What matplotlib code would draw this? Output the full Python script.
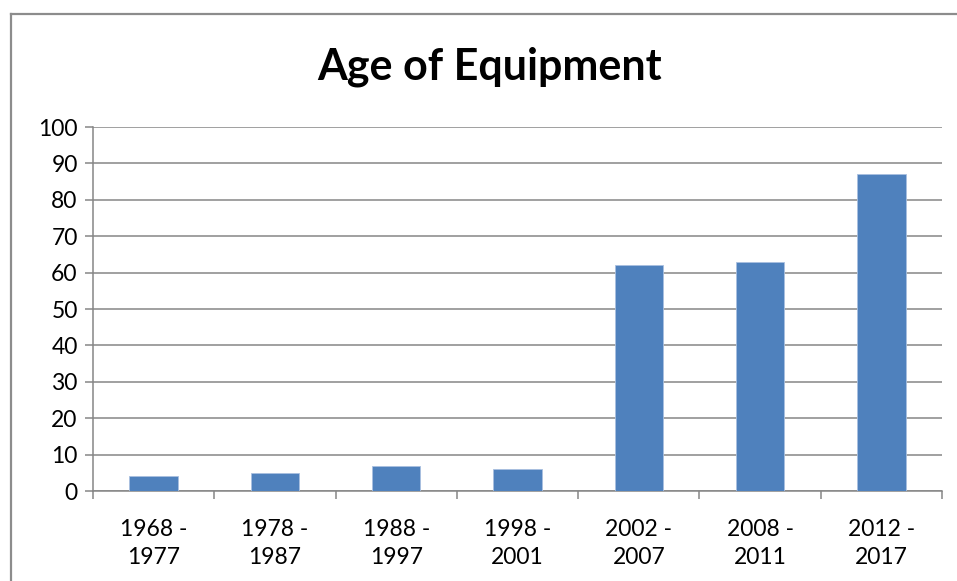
import matplotlib
matplotlib.use("Agg")
import matplotlib.pyplot as plt
from matplotlib.lines import Line2D

categories = ["1968 -\n1977", "1978 -\n1987", "1988 -\n1997", "1998 -\n2001",
              "2002 -\n2007", "2008 -\n2011", "2012 -\n2017"]
values = [4, 5, 7, 6, 62, 63, 87]
yticks = list(range(0, 101, 10))
title = "Age of Equipment"

plt.rcParams['font.family'] = ['Lato', 'DejaVu Sans']

W, H = 957, 581
fig = plt.figure(figsize=(W / 100, H / 100), dpi=100)
ax = fig.add_axes([93 / W, 1 - 491 / H, (942 - 93) / W, (491 - 127) / H])

grid_c = "#868686"
x = list(range(len(categories)))
ax.bar(x, values, width=0.4, color="#4F81BD", edgecolor="#A9C0E0", linewidth=0.6, zorder=3)

ax.set_xlim(-0.5, len(categories) - 0.5)
ax.set_ylim(0, 100)
ax.set_yticks(yticks)
ax.set_yticklabels([str(v) for v in yticks], fontsize=16.5, color="#000000")
ax.yaxis.grid(True, color=grid_c, linewidth=1.1, zorder=0)
ax.set_axisbelow(True)

ax.set_xticks([i - 0.5 for i in range(len(categories) + 1)], minor=False)
ax.set_xticklabels([""] * (len(categories) + 1))
ax.set_xticks(x, minor=True)
ax.set_xticklabels(categories, minor=True, fontsize=16.5, linespacing=1.4)
ax.tick_params(axis="x", which="major", length=6, width=1.1, color=grid_c)
ax.tick_params(axis="x", which="minor", length=0, pad=20)
ax.tick_params(axis="y", length=6, width=1.1, color=grid_c, pad=5)

for s in ["top", "right"]:
    ax.spines[s].set_visible(False)
ax.spines["left"].set_color(grid_c)
ax.spines["left"].set_linewidth(1.1)
ax.spines["bottom"].set_color(grid_c)
ax.spines["bottom"].set_linewidth(1.1)

fig.text(490 / W, 1 - 67 / H, title, ha="center", va="center",
         fontsize=31, fontweight="bold", color="#000000")

# outer chart frame (cropped at right and bottom)
fc = "#8C8C8C"
fig.add_artist(Line2D([11 / W, 1.0], [1 - 14 / H, 1 - 14 / H], color=fc, linewidth=1.6,
                      transform=fig.transFigure))
fig.add_artist(Line2D([11 / W, 11 / W], [0.0, 1 - 14 / H], color=fc, linewidth=1.6,
                      transform=fig.transFigure))

fig.savefig("out.png", dpi=100)
